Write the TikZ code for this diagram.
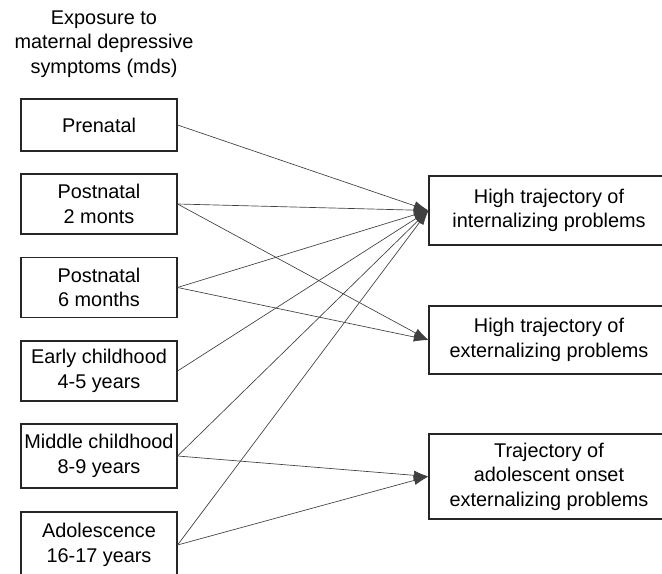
\documentclass[tikz,border=0pt]{standalone}
\usepackage{fontspec}
\setmainfont{Liberation Sans}
\usetikzlibrary{arrows.meta}

\begin{document}
\begin{tikzpicture}[x=0.75pt, y=-0.75pt, >={Latex[length=11pt,width=7pt]},
  box/.style={draw=black!85, line width=0.8pt, align=center, inner sep=0pt,
    font=\fontsize{14.9}{18.3}\selectfont},
  mds/.style={box, minimum width=117pt},
  outcome/.style={box, minimum width=180pt},
  link/.style={->, draw=black!75, line width=0.5pt}]
  \useasboundingbox (0,0) rectangle (662,574);
  % title
  \node[align=center, font=\fontsize{14.9}{18.3}\selectfont] (title) at (104,44)
    {Exposure to\\maternal depressive\\symptoms (mds)};
  % exposures
  \node[mds, minimum height=39pt] (pre) at (99,125) {Prenatal};
  \node[mds, minimum height=45pt] (post2) at (99,204) {Postnatal\\2 monts};
  \node[mds, minimum height=45pt] (post6) at (99,287.5) {Postnatal\\6 months};
  \node[mds, minimum height=45pt] (early) at (99,371) {Early childhood\\4-5 years};
  \node[mds, minimum height=48pt] (middle) at (99,456) {Middle childhood\\8-9 years};
  \node[mds, minimum height=49.5pt] (adol) at (99,545) {Adolescence\\16-17 years};
  % outcomes
  \node[outcome, minimum height=51.75pt] (int) at (549,210.5)
    {High trajectory of\\internalizing problems};
  \node[outcome, minimum height=51pt] (ext) at (549,340)
    {High trajectory of\\externalizing problems};
  \node[outcome, minimum height=63.75pt] (onset) at (549,476.5)
    {Trajectory of\\adolescent onset\\externalizing problems};
  % paths
  \foreach \src in {pre,post2,post6,early,middle,adol}
    \draw[link] (\src.east) -- (int.west);
  \foreach \src in {post2,post6}
    \draw[link] (\src.east) -- (ext.west);
  \foreach \src in {middle,adol}
    \draw[link] (\src.east) -- (onset.west);
\end{tikzpicture}
\end{document}
